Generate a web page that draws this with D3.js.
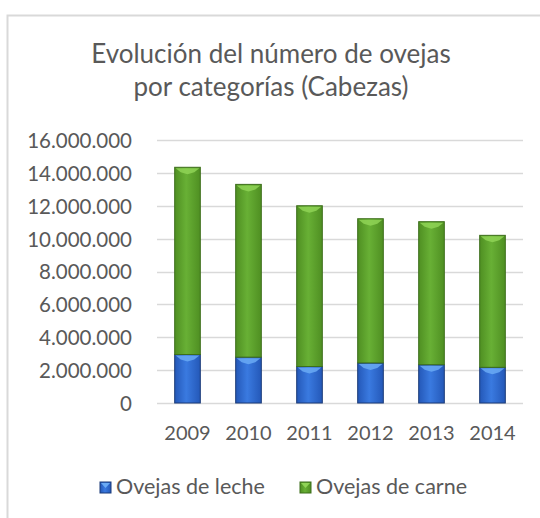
<!DOCTYPE html>
<html>
<head>
<meta charset="utf-8">
<script src="https://cdn.jsdelivr.net/npm/d3@7"></script>
<style>
  body { margin: 0; background: #fff; }
  text { font-family: Lato, "Open Sans", sans-serif; fill: #595959; }
</style>
</head>
<body>
<div id="container"></div>
<script>
// data
var years = ["2009", "2010", "2011", "2012", "2013", "2014"];
var leche = [2950000, 2790000, 2220000, 2440000, 2330000, 2170000];
var carne = [11390000, 10510000, 9780000, 8770000, 8700000, 8030000];
var seriesNames = ["Ovejas de leche", "Ovejas de carne"];
var yTicks = [0, 2000000, 4000000, 6000000, 8000000, 10000000, 12000000, 14000000, 16000000];
var titleLines = ["Evolución del número de ovejas", "por categorías (Cabezas)"];

var width = 540, height = 518;
var margin = {top: 140, right: 17, bottom: 115, left: 157};

var svg = d3.select("#container")
    .append("svg")
    .attr("width", width)
    .attr("height", height);

// gradients for the bevelled bars
var defs = svg.append("defs");
function grad(id, edge, mid) {
    var g = defs.append("linearGradient").attr("id", id)
        .attr("x1", "0%").attr("x2", "100%").attr("y1", "0%").attr("y2", "0%");
    g.append("stop").attr("offset", "0%").attr("stop-color", edge);
    g.append("stop").attr("offset", "45%").attr("stop-color", mid);
    g.append("stop").attr("offset", "100%").attr("stop-color", edge);
}
grad("gBlue", "#2458b8", "#3a7ae0");
grad("gGreen", "#4f8f22", "#68b035");
var colors = [
    {fill: "url(#gBlue)", stroke: "#1b3b78", cap: "#6aaaf5"},
    {fill: "url(#gGreen)", stroke: "#3d6e1b", cap: "#8fd356"}
];

// chart border
svg.append("rect")
    .attr("x", 7.5).attr("y", 15.5)
    .attr("width", 600).attr("height", 600)
    .attr("fill", "none")
    .attr("stroke", "#d9d9d9")
    .attr("stroke-width", 2);

// title
svg.selectAll(".title")
    .data(titleLines)
    .enter()
    .append("text")
        .attr("x", 271)
        .attr("y", function(d, i){ return 63 + i * 33 })
        .attr("text-anchor", "middle")
        .attr("font-size", "26px")
        .text(function(d){ return d });

var x = d3.scaleBand()
    .domain(years)
    .range([margin.left, width - margin.right])
    .paddingInner(0.58)
    .paddingOuter(0.29);

var y = d3.scaleLinear()
    .domain([0, 16000000])
    .range([height - margin.bottom, margin.top]);

var es = d3.formatLocale({decimal: ",", thousands: ".", grouping: [3], currency: ["", "€"]});
var fmt = es.format(",.0f");

// gridlines
svg.append("g")
    .selectAll("line")
    .data(yTicks)
    .enter()
    .append("line")
        .attr("x1", margin.left)
        .attr("x2", width - margin.right)
        .attr("y1", function(d){ return Math.round(y(d)) + 0.5 })
        .attr("y2", function(d){ return Math.round(y(d)) + 0.5 })
        .attr("stroke", "#d9d9d9")
        .attr("stroke-width", 1.5);

// y axis labels
var yAxis = svg.append("g")
    .attr("transform", "translate(" + (margin.left - 25) + ",0)")
    .call(d3.axisLeft(y).tickValues(yTicks).tickFormat(fmt).tickSize(0).tickPadding(0));
yAxis.select(".domain").remove();
yAxis.selectAll("text")
    .attr("font-size", "20.5px")
    .attr("font-family", "Lato, sans-serif")
    .attr("fill", "#595959")
    .attr("dy", "0.36em");

// x axis labels
var xAxis = svg.append("g")
    .attr("transform", "translate(0," + (height - margin.bottom) + ")")
    .call(d3.axisBottom(x).tickSize(0).tickPadding(0));
xAxis.select(".domain").remove();
xAxis.selectAll("text")
    .attr("font-size", "20px")
    .attr("font-family", "Lato, sans-serif")
    .attr("fill", "#595959")
    .attr("dy", "1.85em");

// stacked bars
var rows = years.map(function(yr, i){ return {year: yr, leche: leche[i], carne: carne[i]} });
var stack = d3.stack().keys(["leche", "carne"])(rows);

var layers = svg.selectAll(".layer")
    .data(stack)
    .enter()
    .append("g")
        .attr("class", "layer");

layers.selectAll("rect")
    .data(function(d, k){ return d.map(function(p){ return {p: p, k: k} }) })
    .enter()
    .append("rect")
        .attr("x", function(d){ return x(d.p.data.year) })
        .attr("y", function(d){ return y(d.p[1]) })
        .attr("width", x.bandwidth())
        .attr("height", function(d){ return y(d.p[0]) - y(d.p[1]) })
        .attr("fill", function(d){ return colors[d.k].fill })
        .attr("stroke", function(d){ return colors[d.k].stroke })
        .attr("stroke-width", 1);

// bevel highlight on top of each segment
layers.selectAll("polygon")
    .data(function(d, k){ return d.map(function(p){ return {p: p, k: k} }) })
    .enter()
    .append("polygon")
        .attr("points", function(d){
            var x0 = x(d.p.data.year), w = x.bandwidth(), t = y(d.p[1]);
            return [[x0 + 1, t + 1], [x0 + w - 1, t + 1], [x0 + w - 6, t + 5], [x0 + w / 2, t + 7], [x0 + 6, t + 5]].join(" ");
        })
        .attr("fill", function(d){ return colors[d.k].cap })
        .attr("opacity", 0.85);

// legend
var legendX = [100, 300];
var legend = svg.selectAll(".legend")
    .data(seriesNames)
    .enter()
    .append("g")
        .attr("class", "legend")
        .attr("transform", function(d, i){ return "translate(" + legendX[i] + ",482)" });
legend.append("rect")
    .attr("x", 0).attr("y", 0)
    .attr("width", 11).attr("height", 11)
    .attr("fill", function(d, i){ return colors[i].fill })
    .attr("stroke", function(d, i){ return colors[i].stroke });
legend.append("polygon")
    .attr("points", "1,1 10,1 5.5,6")
    .attr("fill", function(d, i){ return colors[i].cap });
legend.append("text")
    .attr("x", 16)
    .attr("y", 11.5)
    .attr("font-size", "21.5px")
    .text(function(d){ return d });
</script>
</body>
</html>
